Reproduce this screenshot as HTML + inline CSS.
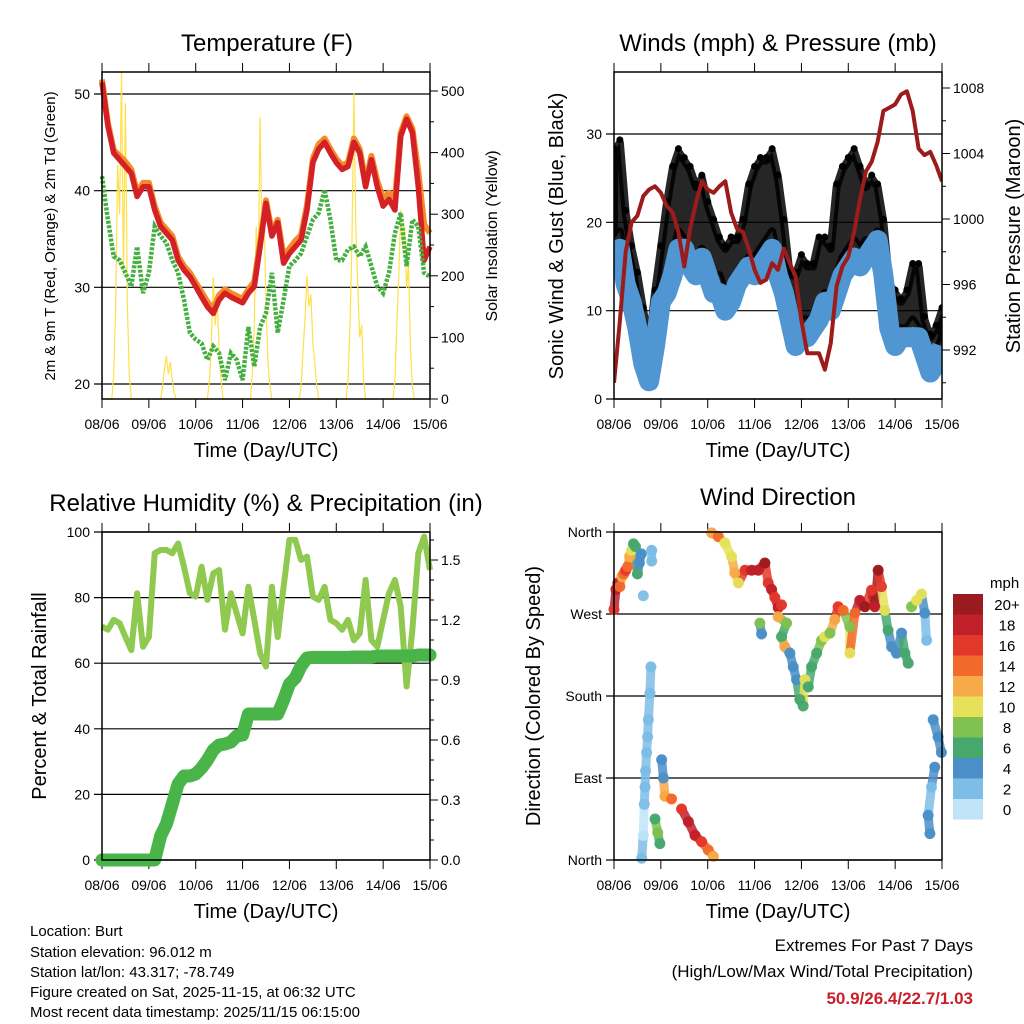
<!DOCTYPE html>
<html><head><meta charset="utf-8">
<style>
html,body{margin:0;padding:0;background:#fff;}
svg{display:block;font-family:"Liberation Sans",sans-serif;}
</style></head>
<body>
<svg id="chart" width="1024" height="1024" viewBox="0 0 1024 1024" xmlns="http://www.w3.org/2000/svg">
<defs><clipPath id="windclip"><rect x="614" y="72" width="328" height="327"/></clipPath></defs>
<rect width="1024" height="1024" fill="#fff"/>
<g id="layer"></g>
<g font-size="24" text-anchor="middle" fill="#000">
<text x="267" y="51">Temperature (F)</text>
<text x="778" y="51">Winds (mph) &amp; Pressure (mb)</text>
<text x="266" y="511">Relative Humidity (%) &amp; Precipitation (in)</text>
<text x="778" y="505">Wind Direction</text>
</g>
<g font-size="20" text-anchor="middle" fill="#000">
<text x="266" y="457">Time (Day/UTC)</text>
<text x="778" y="457">Time (Day/UTC)</text>
<text x="266" y="918">Time (Day/UTC)</text>
<text x="778" y="918">Time (Day/UTC)</text>
<text font-size="15" transform="translate(55,236) rotate(-90)">2m &amp; 9m T (Red, Orange) &amp; 2m Td (Green)</text>
<text font-size="16" transform="translate(497,236) rotate(-90)">Solar Insolation (Yellow)</text>
<text transform="translate(563,236) rotate(-90)">Sonic Wind &amp; Gust (Blue, Black)</text>
<text transform="translate(1020,236) rotate(-90)">Station Pressure (Maroon)</text>
<text transform="translate(46,696) rotate(-90)">Percent &amp; Total Rainfall</text>
<text transform="translate(540,696) rotate(-90)">Direction (Colored By Speed)</text>
</g>
<g font-size="15" fill="#000">
<text x="30" y="936">Location: Burt</text>
<text x="30" y="957">Station elevation: 96.012 m</text>
<text x="30" y="977">Station lat/lon: 43.317; -78.749</text>
<text x="30" y="997">Figure created on Sat, 2025-11-15, at 06:32 UTC</text>
<text x="30" y="1017">Most recent data timestamp: 2025/11/15 06:15:00</text>
</g>
<g font-size="17" text-anchor="end" fill="#000">
<text x="973" y="951">Extremes For Past 7 Days</text>
<text x="973" y="977">(High/Low/Max Wind/Total Precipitation)</text>
<text x="973" y="1004" fill="#c8202a" font-weight="bold">50.9/26.4/22.7/1.03</text>
</g>
</svg>
<script>
// ---------- data (3-hourly unless noted) ----------
const dayLabels = ["08/06","09/06","10/06","11/06","12/06","13/06","14/06","15/06"];
const tempRed = [51.2,46.7,43.9,43.2,42.5,41.8,39.4,40.4,40.4,38,36.3,35.6,34.9,32.8,31.8,31.1,30.1,29.0,28.0,27.3,28.7,29.4,29.0,28.7,28.4,29.4,30.1,34.2,38.7,35.3,36.7,32.5,33.5,34.2,34.9,38,42.9,44.3,45,43.9,42.9,42.2,42.5,45,43.9,40.4,43.2,40.4,38.4,39.1,38,45.6,47.4,46,40.4,32.8,34.2];
const tempOrange = [51.5,47,44.2,43.6,43,42.2,39.8,40.8,40.8,38.4,36.7,36,35.3,33.2,32.2,31.5,30.5,29.5,28.5,27.8,29.2,29.8,29.4,29.1,28.8,29.8,30.6,34.7,39,35.7,37,33.2,34,34.8,35.4,38.5,43.3,44.8,45.4,44.3,43.3,42.6,42.9,45.4,44.3,40.9,43.6,41,39.2,39.8,39,46,47.7,46.4,42,36.5,35.6];
const tempDew = [41.5,37,33.2,32.8,31.5,30.1,34.2,29.4,31.5,36.3,35.3,34.6,32.8,31.5,28.7,25.3,24.6,24.2,22.5,23.9,23.2,20.4,23.2,22.5,20.4,25.9,21.8,25.9,27.3,31.5,25.3,28.7,32.2,32.8,33.5,35.3,37,37.7,40.1,37,32.8,32.8,33.9,34.2,33.2,34.2,32.2,30.1,29.4,31.5,35.6,37.7,32.2,37,36.3,31.5,31.1];
const solarHour = [0,5,6,7,8,9,10,11,12,13,14,15,30,31,32,33,34,35,36,37,38,54,55,56,57,58,59,60,61,62,76,77,78,79,80,81,82,83,84,85,86,87,101,102,103,104,105,106,107,108,109,110,111,125,126,127,128,129,130,131,132,133,134,135,149,150,151,152,153,154,155,156,157,158,159,160,168];
const solarValue = [0,0,40,150,380,300,530,200,480,150,40,0,0,20,50,70,40,60,30,10,0,0,30,90,198,120,160,80,30,0,0,40,120,280,200,458,250,320,150,60,20,0,0,20,80,130,200,150,170,90,60,20,0,0,30,120,250,496,280,180,100,120,30,0,0,30,120,200,307,250,280,180,220,80,20,0,0];
const windSpeed = [16,17,13,11,8,4,2,6,11,12,14,17,17,15,14,16,14,12,12,10,11,13,14,15,14,15,16,17,14,12,9,6,7,7,8,9,11,10,12,14,15,16,15,16,17,18,14,8,6,7,7,7,7,5,3,4,6];
const gustHigh = [28,29,21,17,14,10,6,12,17,22,26,28,27,26,24,25,22,20,18,17,18,18,20,24,26,27,27,28,25,20,14,14,16,15,15,18,18,17,24,26,27,28,26,24,25,24,20,13,12,11,12,15,15,9,7,8,10];
const gustLow = [18,19,14,12,9,5,3,7,12,14,16,19,18,17,16,17,16,14,14,12,12,14,15,16,16,17,18,19,16,14,10,8,9,9,9,10,12,12,14,16,17,18,17,18,18,19,15,9,7,8,8,9,8,6,4,5,7];
const pressure = [990,993.8,998,999.8,1000.2,1001.4,1001.8,1002,1001.6,1000.8,1000.4,999.2,997.1,999.4,1001,1002.3,1001.8,1001.6,1002,1002.3,1000.4,999.4,999.2,998.2,996.9,996.1,996.3,997.3,996.9,998.2,997.3,996.5,993.8,991.8,991.8,991.8,990.8,992.4,995.9,997.1,997.7,999.2,1001.2,1002.9,1003.5,1004.7,1006.6,1006.8,1007,1007.6,1007.8,1006.6,1004.3,1003.9,1004.1,1003.3,1002.3];
const humidity = [71.2,70.2,73.2,72.2,68,64,81.3,65,68,93.5,94.5,94.5,93.5,96.5,89.4,81.3,80.3,89.4,79.3,87.4,88.4,70.2,81.3,75.2,69.1,83.3,73.2,63,59,83.3,68,83.3,97.6,97.6,91.5,92.5,80.3,79.3,83.3,73.2,72.2,70.2,73.2,67,69.1,85.4,67,65,73.2,81.3,85.4,77.2,52.9,70.2,93.5,98.6,88.4];
const precip = [0,0,0,0,0,0,0,0,0,0,0.12,0.18,0.28,0.38,0.42,0.42,0.43,0.46,0.5,0.55,0.575,0.58,0.59,0.62,0.625,0.73,0.73,0.73,0.73,0.73,0.73,0.8,0.88,0.91,0.97,1.01,1.013,1.013,1.013,1.013,1.013,1.013,1.013,1.015,1.015,1.015,1.015,1.02,1.02,1.02,1.02,1.02,1.02,1.02,1.025,1.025,1.025];
const dirHour = [0,1,2,3,4,5,6,7,8,9,10,11,12,13,14,15,19.3,19.3,18.9,18.4,17.6,17.2,16.7,16.2,15.9,15.5,15,14.2,21,22.4,23.5,24.4,25.3,26.1,29.5,34.6,38.1,41.5,44.9,48.3,50.9,50,53.4,56.8,60.2,61.9,63.7,67.1,70.5,73.9,77.3,79,80.7,82.4,84.1,85.8,74.7,75.6,84.1,88.4,85.8,87.5,90.1,91.8,93.5,95.2,96.9,97.8,99.5,101.2,103.8,106.3,108,110.6,113.1,114.8,117.4,120.8,120.8,123.4,125.9,128.5,131.9,133.6,135.3,137,138.7,140.4,142.2,144.7,147.3,149,150.7,152.4,155,157.5,159.2,160.1,161.8,160.9,162.6,164.3,163.5,166,167.7];
const dirValue = [275,297,304,300,311,314,318,322,333,340,347,344,314,326,336,290,340,328,212,183,154,135,118,98,80,61,27,2,45,30,18,110,90,70,67,56,42,27,20,11,4,359,355,348,333,315,304,318,318,318,326,304,297,288,277,280,260,248,267,260,245,234,227,212,198,176,169,198,190,212,227,241,245,249,264,278,274,256,227,271,285,278,296,278,318,300,274,252,234,227,249,227,216,278,285,292,271,241,29,49,80,102,154,135,118,102];
const dirSpeed = [16,18,18,14,12,14,16,14,12,10,7,6,6,4,4,2,2,2,2,2,2,2,2,2,2,2,0,3,7,8,6,4,4,12,14,16,18,18,16,14,12,12,14,10,10,12,10,16,18,18,20,16,18,16,18,16,8,4,12,8,7,12,4,4,4,6,6,10,6,6,7,8,10,8,12,16,14,8,10,14,18,20,16,18,20,16,10,6,4,4,4,6,6,8,10,10,4,2,4,4,2,4,4,4,4,6];
const speedLabels = ["20+","18","16","14","12","10","8","6","4","2","0"];
const speedColors = ["#9b1a1f","#c0202a","#e2382c","#f2692c","#f8a948","#e7e15a","#7fc24f","#47a86e","#4a8fc8","#7dbde6","#bfe4f7"];

const NS = "http://www.w3.org/2000/svg";
const layer = document.getElementById("layer");
function mk(tag, attrs, parent){
  const e = document.createElementNS(NS, tag);
  for (const k in attrs) e.setAttribute(k, attrs[k]);
  (parent || layer).appendChild(e);
  return e;
}
function lin(d0,d1,r0,r1){ return v => r0 + (v-d0)/(d1-d0)*(r1-r0); }
function pts(xs, ys, fx, fy){ return xs.map((h,i)=>fx(h).toFixed(1)+","+fy(ys[i]).toFixed(1)).join(" "); }
const hours3 = windSpeed.map((_,i)=>i*3);

function frame(x0,x1,y0,y1,leftTicks,leftLabels,fyL,rightTicks,rightLabels,fyR,rightMinor,name){
  const g = mk("g",{});
  
  
  leftTicks.forEach((v,i)=>{
    const y = fyL(v);
    const l = mk("line",{x1:x0-8,x2:x1,y1:y,y2:y,stroke:"#000","stroke-width":1.2},g);
    
    
    const t = mk("text",{x:x0-12,y:y+5,"font-size":14,"text-anchor":"end"},g);
    
    
    t.textContent = leftLabels[i];
  });
  if (rightTicks){
    rightTicks.forEach((v,i)=>{
      const y = fyR(v);
      mk("line",{x1:x1,x2:x1+8,y1:y,y2:y,stroke:"#000","stroke-width":1},g);
      const t = mk("text",{x:x1+11,y:y+5,"font-size":14},g);
      
      
      t.textContent = rightLabels[i];
    });
    (rightMinor||[]).forEach(v=>{
      const y = fyR(v);
      mk("line",{x1:x1,x2:x1+4,y1:y,y2:y,stroke:"#000","stroke-width":1},g);
    });
  }
  const fx = lin(0,168,x0,x1);
  dayLabels.forEach((lab,d)=>{
    const x = fx(d*24);
    mk("line",{x1:x,x2:x,y1:y0-9,y2:y0,stroke:"#000","stroke-width":1},g);
    mk("line",{x1:x,x2:x,y1:y1,y2:y1+9,stroke:"#000","stroke-width":1},g);
    const t = mk("text",{x:x,y:y1+30,"font-size":14,"text-anchor":"middle"},g);
    
    
    t.textContent = lab;
  });
  return {g, fx};
}
function border(x0,x1,y0,y1,name){
  const r = mk("rect",{x:x0,y:y0,width:x1-x0,height:y1-y0,fill:"none",stroke:"#000","stroke-width":1.5});
  
  
}

// ---------- Panel 1: temperature ----------
(function(){
  const x0=102,x1=430,y0=72,y1=399;
  const fy = lin(20,50,384,94);
  const fs = lin(0,500,399,91);
  const f = frame(x0,x1,y0,y1,[20,30,40,50],["20","30","40","50"],fy,[0,100,200,300,400,500],["0","100","200","300","400","500"],fs,[50,150,250,350,450],"temperature");
  const fx = f.fx;
  const s = mk("polyline",{points:pts(solarHour,solarValue,fx,fs),fill:"none",stroke:"#ffe04a","stroke-width":1.2});
  
  
  const o = mk("polyline",{points:pts(hours3,tempOrange,fx,fy),fill:"none",stroke:"#f58a2a","stroke-width":6,"stroke-linejoin":"round"});
  
  
  const r = mk("polyline",{points:pts(hours3,tempRed,fx,fy),fill:"none",stroke:"#d42126","stroke-width":5.5,"stroke-linejoin":"round"});
  
  
  const d = mk("polyline",{points:pts(hours3,tempDew,fx,fy),fill:"none",stroke:"#45b041","stroke-width":4.5,"stroke-dasharray":"3 1.5"});
  
  
  border(x0,x1,y0,y1,"temperature");
})();

// ---------- Panel 2: winds ----------
(function(){
  const x0=614,x1=942,y0=72,y1=399;
  const fy = lin(0,30,399,134);
  const fp = lin(992,1008,350,88);
  const f = frame(x0,x1,y0,y1,[0,10,20,30],["0","10","20","30"],fy,[992,996,1000,1004,1008],["992","996","1000","1004","1008"],fp,[990,994,998,1002,1006],"winds");
  const fx = f.fx;
  const cg = mk("g",{"clip-path":"url(#windclip)"});
  
  
  const top = hours3.map((h,i)=>fx(h).toFixed(1)+","+fy(gustHigh[i]).toFixed(1));
  const bot = hours3.map((h,i)=>fx(h).toFixed(1)+","+fy(gustLow[i]).toFixed(1)).reverse();
  const band = mk("polygon",{points:top.concat(bot).join(" "),fill:"#000","fill-opacity":0.85,stroke:"#000","stroke-width":8,"stroke-linejoin":"round","stroke-opacity":0.85},cg);
  
  
  hours3.forEach((h,i)=>{
    const c = mk("circle",{cx:fx(h),cy:fy(gustHigh[i])-3,r:3.5,fill:"#000"},cg);
    
    
  });
  const w = mk("polyline",{points:pts(hours3,windSpeed,fx,fy),fill:"none",stroke:"#4f96d3","stroke-width":20,"stroke-linejoin":"round"},cg);
  
  
  const p = mk("polyline",{points:pts(hours3,pressure,fx,fp),fill:"none",stroke:"#9c1b1b","stroke-width":4,"stroke-linejoin":"round"},cg);
  
  
  border(x0,x1,y0,y1,"winds");
})();

// ---------- Panel 3: humidity & precip ----------
(function(){
  const x0=102,x1=430,y0=532,y1=860;
  const fy = lin(0,100,860,532);
  const fp = lin(0,1.5,860,560);
  const f = frame(x0,x1,y0,y1,[0,20,40,60,80,100],["0","20","40","60","80","100"],fy,[0,0.3,0.6,0.9,1.2,1.5],["0.0","0.3","0.6","0.9","1.2","1.5"],fp,[0.1,0.2,0.4,0.5,0.7,0.8,1.0,1.1,1.3,1.4,1.6],"humidity");
  const fx = f.fx;
  const h = mk("polyline",{points:pts(hours3,humidity,fx,fy),fill:"none",stroke:"#8fc94f","stroke-width":6,"stroke-linejoin":"round"});
  
  
  const p = mk("polyline",{points:pts(hours3,precip,fx,fp),fill:"none",stroke:"#49b548","stroke-width":13,"stroke-linejoin":"round","stroke-linecap":"round"});
  
  
  border(x0,x1,y0,y1,"humidity");
})();

// ---------- Panel 4: wind direction ----------
(function(){
  const x0=614,x1=942,y0=532,y1=860;
  const fy = lin(0,360,860,532);
  const f = frame(x0,x1,y0,y1,[0,90,180,270,360],["North","East","South","West","North"],fy,null,null,null,null,"wind-direction");
  const fx = f.fx;
  function col(s){ let k = 10 - Math.floor(s/2); if (k<0) k=0; if (k>10) k=10; return speedColors[k]; }
  for (let i=1;i<dirHour.length;i++){
    if (Math.abs(dirHour[i]-dirHour[i-1])<=4.5 && Math.abs(dirValue[i]-dirValue[i-1])<=45){
      const s = mk("line",{x1:fx(dirHour[i-1]),y1:fy(dirValue[i-1]),x2:fx(dirHour[i]),y2:fy(dirValue[i]),stroke:col(dirSpeed[i]),"stroke-width":9,"stroke-linecap":"round","stroke-opacity":0.85});
      
      
    }
  }
  dirHour.forEach((h,i)=>{
    const c = mk("circle",{cx:fx(h),cy:fy(dirValue[i]),r:5.5,fill:col(dirSpeed[i]),"fill-opacity":0.95});
    
    
  });
  border(x0,x1,y0,y1,"wind-direction");
  const lg = mk("g",{});
  
  
  const t0 = mk("text",{x:990,y:588,"font-size":15},lg);
  
  
  t0.textContent = "mph";
  speedLabels.forEach((lab,k)=>{
    const y = 594 + k*20.5;
    const r = mk("rect",{x:953,y:y,width:30,height:20.5,fill:speedColors[k]},lg);
    
    
    const t = mk("text",{x:1007,y:y+16,"font-size":15,"text-anchor":"middle"},lg);
    
    
    t.textContent = lab;
  });
})();
</script>
</body></html>
